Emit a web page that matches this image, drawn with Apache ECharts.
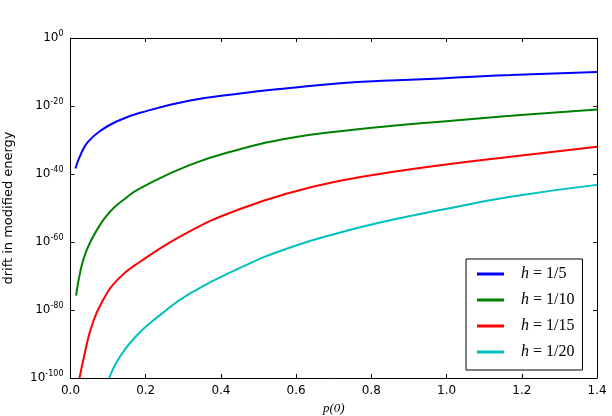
<!DOCTYPE html>
<html>
<head>
<meta charset="utf-8">
<script src="https://cdn.jsdelivr.net/npm/echarts@6/dist/echarts.min.js"></script>
<style>
  html, body { margin: 0; padding: 0; background: #fff; }
  #chart { width: 612px; height: 416px; }
</style>
</head>
<body>
<div id="chart"></div>
<script>
// p(0) values and log10 of the drift
const p_h5 = [0.013, 0.029, 0.047, 0.082, 0.126, 0.185, 0.318, 0.451, 0.584, 0.717, 0.85, 0.983, 1.17, 1.4]
const e_h5 = [-38.4, -33.8, -30.5, -27.1, -24.4, -22.0, -18.4, -16.3, -14.7, -13.3, -12.5, -11.9, -10.9, -10.0]

const p_h10 = [0.015, 0.027, 0.043, 0.07, 0.105, 0.149, 0.185, 0.318, 0.451, 0.584, 0.717, 0.85, 0.983, 1.17, 1.4]
const e_h10 = [-75.8, -68.2, -62.4, -56.5, -51.1, -46.9, -44.2, -37.3, -32.7, -29.4, -27.4, -25.9, -24.6, -22.9, -21.0]

const p_h15 = [0.024, 0.038, 0.056, 0.082, 0.126, 0.185, 0.318, 0.451, 0.584, 0.717, 0.85, 0.983, 1.17, 1.4]
const e_h15 = [-100, -92.7, -84.9, -78, -71.0, -65.8, -56.8, -50.3, -45.5, -42.0, -39.5, -37.4, -34.9, -32.0]

const p_h20 = [0.103, 0.126, 0.171, 0.238, 0.318, 0.451, 0.584, 0.717, 0.85, 0.983, 1.17, 1.4]
const e_h20 = [-100, -94.7, -88.1, -81.5, -75.1, -67.6, -61.6, -57.2, -53.6, -50.6, -46.7, -43.2]

const names = ['h=1/5', 'h=1/10', 'h=1/15', 'h=1/20']
const colors = ['#0000ff', '#008000', '#ff0000', '#00bfbf']

// the y axis runs on log10 of the drift (decades), labelled as powers of ten;
// a real log axis down to 1e-100 trips ECharts' number rounding
function pairs(p, e) {
  return p.map((v, i) => [v, e[i]])
}
const all = [pairs(p_h5, e_h5), pairs(p_h10, e_h10), pairs(p_h15, e_h15), pairs(p_h20, e_h20)]

const font = 'DejaVu Sans'
const mathFont = 'Liberation Serif'

const chart = echarts.init(document.getElementById('chart'))

const tickStyle = { show: true, inside: true, length: 4, lineStyle: { color: '#000' } }
const lineStyle = { show: true, onZero: false, lineStyle: { color: '#000', width: 1 } }

chart.setOption({
  animation: false,
  grid: { left: 70.5, right: 15, top: 38, bottom: 38, containLabel: false, outerBoundsMode: 'none' },
  legend: {
    orient: 'vertical',
    left: 466, top: 259,
    padding: [7, 8, 10, 11],
    itemGap: 10,
    itemWidth: 27,
    itemHeight: 3,
    icon: 'rect',
    borderColor: '#000',
    borderWidth: 1,
    backgroundColor: '#fff',
    data: names,
    formatter: n => '{i|h}{n| = ' + n.slice(2) + '}',
    textStyle: {
      padding: [0, 0, 0, 12],
      rich: {
        i: { fontFamily: mathFont, fontStyle: 'italic', fontSize: 16, color: '#000' },
        n: { fontFamily: mathFont, fontSize: 16, color: '#000' }
      }
    }
  },
  xAxis: [{
    type: 'value', min: 0, max: 1.4, interval: 0.2, position: 'bottom',
    axisLine: lineStyle, axisTick: tickStyle, splitLine: { show: false },
    axisLabel: { margin: 7, fontFamily: font, fontSize: 12, color: '#000', formatter: v => v.toFixed(1) },
    name: 'p(0)', nameLocation: 'middle', nameGap: 23,
    nameTextStyle: { fontFamily: mathFont, fontStyle: 'italic', fontSize: 13, color: '#000' }
  }, {
    type: 'value', min: 0, max: 1.4, interval: 0.2, position: 'top',
    axisLine: lineStyle, axisTick: tickStyle, splitLine: { show: false },
    axisLabel: { show: false }
  }],
  yAxis: [{
    type: 'value', min: -100, max: 0, interval: 20, position: 'left',
    axisLine: lineStyle, axisTick: tickStyle, splitLine: { show: false },
    axisLabel: {
      margin: 7, fontFamily: font, fontSize: 12, color: '#000',
      formatter: v => '10{s|' + v + '}',
      rich: { s: { fontFamily: font, fontSize: 8, verticalAlign: 'top', padding: [0, 0, 8, 0], color: '#000' } }
    },
    name: 'drift in modified energy', nameLocation: 'middle', nameGap: 55,
    nameTextStyle: { fontFamily: font, fontSize: 13, color: '#000' }
  }, {
    type: 'value', min: -100, max: 0, interval: 20, position: 'right',
    axisLine: lineStyle, axisTick: tickStyle, splitLine: { show: false },
    axisLabel: { show: false }
  }],
  series: all.map((d, i) => ({
    name: names[i],
    type: 'line',
    data: d,
    xAxisIndex: 0,
    yAxisIndex: 0,
    showSymbol: false,
    smooth: 0.5,
    color: colors[i],
    lineStyle: { width: 2, color: colors[i] }
  }))
})
</script>
</body>
</html>
